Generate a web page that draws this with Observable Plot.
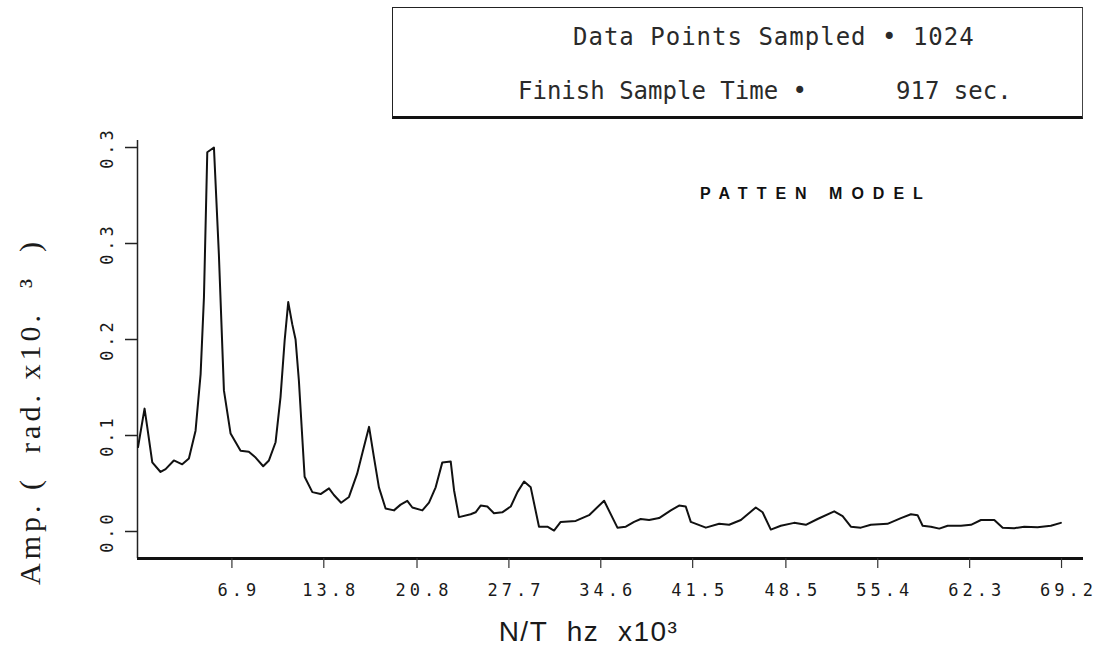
<!DOCTYPE html>
<html>
<head>
<meta charset="utf-8">
<script src="https://cdn.jsdelivr.net/npm/d3@7"></script>
<script src="https://cdn.jsdelivr.net/npm/@observablehq/plot@0.6"></script>
<style>
  html, body { margin: 0; padding: 0; background: #fff; }
  #wrap { position: relative; width: 1111px; height: 667px; overflow: hidden; background: #fff; }
  #box { position: absolute; left: 392px; top: 7px; width: 691px; height: 112px; box-sizing: border-box;
         border-top: 1.5px solid #222; border-left: 1.5px solid #222; border-right: 1px solid #444; border-bottom: 3px solid #111; }
  .lbl { position: absolute; white-space: pre; color: #2a2a2a; }
  .mono { font-family: "DejaVu Sans Mono", monospace; font-size: 24px; line-height: 24px; }
  #patten { font-family: "Liberation Sans", Arial, sans-serif; font-weight: bold; font-size: 16px; line-height: 16px; letter-spacing: 9px; color: #111; }
</style>
</head>
<body>
<div id="wrap">
  <div id="chart"></div>
  <div id="box"></div>
  <div class="lbl mono" style="left:573px; top:25px; letter-spacing:1px;">Data Points Sampled • 1024</div>
  <div class="lbl mono" style="left:518px; top:79px;">Finish Sample Time •</div>
  <div class="lbl mono" style="left:896px; top:79px;">917 sec.</div>
  <div class="lbl" id="patten" style="left:700px; top:186px;">PATTEN MODEL</div>
</div>
<script>
// ---- data ----
const freq = [
  -0.15, 0.34, 0.54, 0.92, 1.54, 1.92, 2.54, 3.17, 3.67, 4.17,
  4.55, 4.80, 5.05, 5.55, 5.92, 6.30, 6.80, 7.55, 8.17, 8.68,
  9.25, 9.68, 10.18, 10.55, 10.86, 11.13, 11.43, 11.68, 11.93, 12.36,
  12.94, 13.56, 14.19, 14.56, 15.10, 15.69, 16.30, 16.74, 17.20, 17.57,
  17.94, 18.44, 19.07, 19.57, 20.07, 20.45, 21.20, 21.70, 22.20, 22.70,
  23.33, 23.58, 23.95, 24.83, 25.20, 25.58, 26.08, 26.58, 27.20, 27.84,
  28.34, 28.84, 29.34, 29.96, 30.59, 31.09, 31.59, 32.72, 33.72, 34.85,
  35.85, 36.48, 37.10, 37.60, 38.23, 38.98, 39.86, 40.48, 40.98, 41.36,
  42.49, 43.49, 44.24, 45.12, 46.24, 46.75, 47.37, 48.12, 49.12, 50.00,
  50.88, 52.13, 52.76, 53.38, 54.13, 54.88, 56.13, 57.14, 57.89, 58.39,
  58.77, 59.39, 60.02, 60.65, 61.65, 62.40, 63.15, 64.15, 64.78, 65.65,
  66.40, 67.40, 68.40, 69.15
];
const amp = [
  0.088, 0.128, 0.109, 0.072, 0.062, 0.065, 0.074, 0.070, 0.076, 0.105,
  0.164, 0.244, 0.395, 0.400, 0.289, 0.147, 0.102, 0.084, 0.083, 0.077,
  0.068, 0.074, 0.093, 0.140, 0.199, 0.239, 0.216, 0.200, 0.157, 0.057,
  0.041, 0.039, 0.045, 0.038, 0.030, 0.036, 0.060, 0.084, 0.109, 0.077,
  0.046, 0.024, 0.022, 0.028, 0.032, 0.025, 0.022, 0.030, 0.046, 0.072,
  0.073, 0.043, 0.015, 0.018, 0.020, 0.027, 0.026, 0.019, 0.020, 0.026,
  0.041, 0.052, 0.046, 0.005, 0.005, 0.001, 0.010, 0.011, 0.017, 0.032,
  0.004, 0.005, 0.010, 0.013, 0.012, 0.014, 0.022, 0.027, 0.026, 0.010,
  0.004, 0.008, 0.007, 0.012, 0.025, 0.020, 0.002, 0.006, 0.009, 0.007,
  0.013, 0.021, 0.016, 0.005, 0.004, 0.007, 0.008, 0.014, 0.018, 0.017,
  0.006, 0.005, 0.003, 0.006, 0.006, 0.007, 0.012, 0.012, 0.004, 0.0035,
  0.005, 0.0045, 0.006, 0.009
];
const xTicks = [6.9, 13.8, 20.8, 27.7, 34.6, 41.5, 48.5, 55.4, 62.3, 69.2];
const xTickLabels = ["6.9", "13.8", "20.8", "27.7", "34.6", "41.5", "48.5", "55.4", "62.3", "69.2"];
const yTicks = [0.0, 0.1, 0.2, 0.3, 0.4];
const yTickLabels = ["0.0", "0.1", "0.2", "0.3", "0.3"];
const xTitle = "N/T\u00a0\u00a0hz\u00a0\u00a0x10\u00b3";
const yTitle = "Amp.\u00a0(\u00a0\u00a0rad.\u00a0x10.\u00a0\u00a0\u00b3\u00a0\u00a0)";

// ---- build ----
const rows = freq.map((f, i) => ({f, a: amp[i]}));
const xLab = new Map(xTicks.map((t, i) => [t, xTickLabels[i]]));
const yLab = new Map(yTicks.map((t, i) => [t, yTickLabels[i]]));
const xDomain = [-0.19, 70.85];
const yDomain = [-0.028125, 0.4073];
const mono = "DejaVu Sans Mono";

const chart = Plot.plot({
  width: 1111,
  height: 667,
  marginLeft: 137,
  marginRight: 28,
  marginTop: 140,
  marginBottom: 109,
  x: {domain: xDomain, label: null},
  y: {domain: yDomain, label: null},
  style: {background: "transparent", color: "#111", overflow: "visible"},
  marks: [
    Plot.ruleX([xDomain[0]], {stroke: "#222", strokeWidth: 1.5}),
    Plot.ruleY([yDomain[0]], {stroke: "#111", strokeWidth: 3}),
    Plot.axisX({ticks: xTicks, tickSize: 10, tickFormat: () => "", label: null, stroke: "#333", strokeWidth: 1.2}),
    Plot.axisX({ticks: xTicks, tickSize: 0, tickPadding: 25, tickFormat: d => xLab.get(d), label: null,
                fontFamily: mono, fontSize: 17, dx: 7, fill: "#1a1a1a"}),
    Plot.axisY({ticks: yTicks, tickSize: 12, tickFormat: () => "", label: null, stroke: "#222", strokeWidth: 1.5}),
    Plot.text(yTicks, {y: d => d, text: d => yLab.get(d), frameAnchor: "left", textAnchor: "middle",
                       dx: -30, rotate: -90, fontFamily: mono, fontSize: 17, fill: "#1a1a1a"}),
    Plot.line(rows, {x: "f", y: "a", stroke: "#111", strokeWidth: 2, strokeLinejoin: "round"}),
    Plot.text([xTitle], {text: d => d, frameAnchor: "bottom", dx: -22, dy: 82,
                         fontFamily: "Liberation Sans", fontSize: 28, fill: "#1a1a1a"}),
    Plot.text([yTitle], {text: d => d, frameAnchor: "left", textAnchor: "middle", dx: -107, dy: 62, rotate: -90,
                         fontFamily: "Liberation Serif", fontSize: 30, fill: "#1a1a1a"})
  ]
});

// letter spacing tweaks (styling only)
d3.select(chart).selectAll("text").each(function () {
  const t = this.textContent;
  if (t === yTitle) this.style.letterSpacing = "4px";
  else if (t === xTitle) this.style.letterSpacing = "1.5px";
  else if (xTickLabels.includes(t) && !(this.getAttribute("transform") || "").includes("rotate")) this.style.letterSpacing = "4px";
  else if (yTickLabels.includes(t)) this.style.letterSpacing = "4px";
});
document.getElementById("chart").appendChild(chart);
</script>
</body>
</html>
